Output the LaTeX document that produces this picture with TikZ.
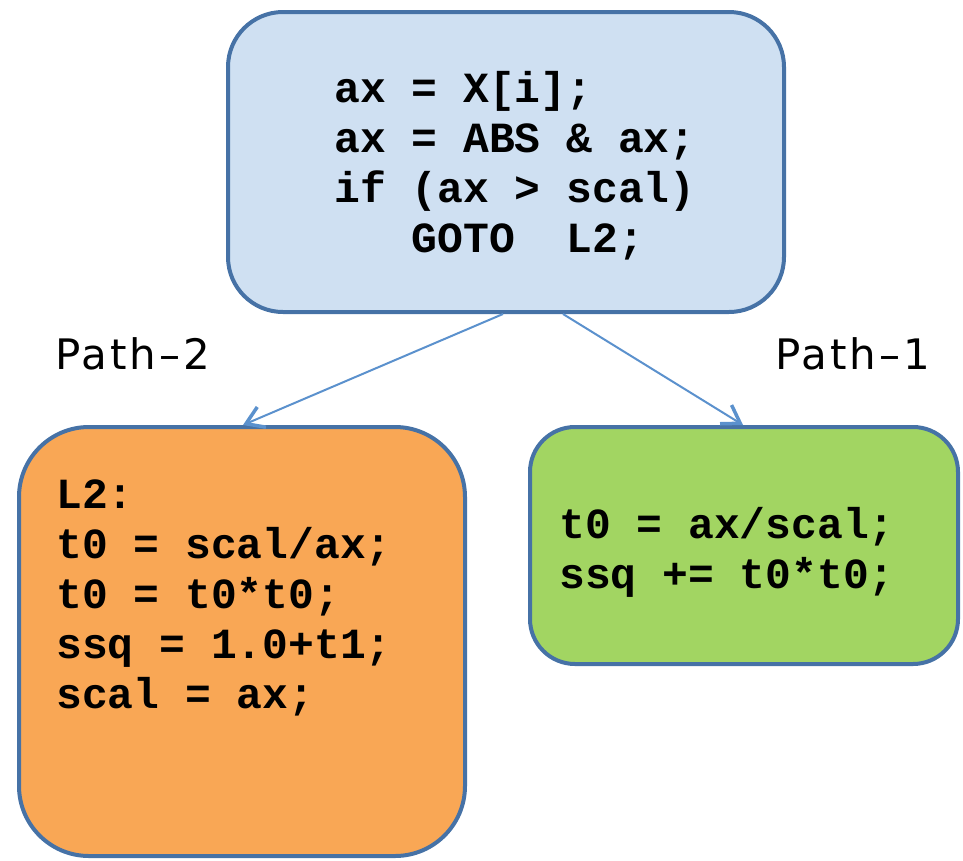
\documentclass[tikz,border=0pt]{standalone}
\usepackage{fontspec}
\setmonofont{Liberation Mono}
\newfontfamily\labelfont[LetterSpace=7]{DejaVu Sans}
\usetikzlibrary{positioning, arrows.meta, calc}
\definecolor{boxedge}{RGB}{70,114,166}
\definecolor{condfill}{RGB}{207,224,242}
\definecolor{ltwofill}{RGB}{249,167,85}
\definecolor{pathonefill}{RGB}{162,213,98}
\definecolor{flowblue}{RGB}{91,145,205}
\tikzset{
    box/.style={
        rectangle,
        draw=boxedge,
        line width=4pt,
        inner sep=0pt
    },
    code/.style={
        align=left,
        anchor=base west,
        inner sep=0pt,
        font=\ttfamily\bfseries\fontsize{43}{50}\selectfont
    },
    pathlabel/.style={
        anchor=base west,
        inner sep=0pt,
        font=\labelfont\fontsize{42}{48}\selectfont
    },
    flow/.style={
        draw=flowblue,
        line width=2pt,
        -{Straight Barb[length=17pt, width=22pt, line width=3.5pt]}
    }
}

\begin{document}
\begin{tikzpicture}[x=1pt, y=-1pt]
      \useasboundingbox (0,0) rectangle (963,860);

      % the three blocks
      \node[box, fill=condfill, rounded corners=55pt,
            minimum width=556pt, minimum height=300pt] (cond) at (506,162) {};
      \node[box, fill=ltwofill, rounded corners=70pt,
            minimum width=446pt, minimum height=429pt] (ltwo) at (242,641.5) {};
      \node[box, fill=pathonefill, rounded corners=45pt,
            minimum width=428pt, minimum height=237pt] (pathone) at (744,545.5) {};

      % code in the blocks (base = last line)
      \node[code] (condcode) at (334,252) {ax = X[i];\\
        ax = ABS \& ax;\\
        if (ax > scal)\\
        ~~~GOTO~~L2;};
      \node[code] (ltwocode) at (56,708) {L2:\\
        t0 = scal/ax;\\
        t0 = t0*t0;\\
        ssq = 1.0+t1;\\
        scal = ax;};
      \node[code] (pathonecode) at (559,588) {t0 = ax/scal;\\
        ssq += t0*t0;};

      % branch labels
      \node[pathlabel] (labtwo) at (55,369) {Path\textendash2};
      \node[pathlabel] (labone) at (775,369) {Path\textendash1};

      \draw[flow] ([xshift=-3pt]cond.south) -- ([xshift=1pt]ltwo.north);
      \draw[flow] ([xshift=57pt]cond.south) -- ([xshift=-1pt]pathone.north);
\end{tikzpicture}
\end{document}
